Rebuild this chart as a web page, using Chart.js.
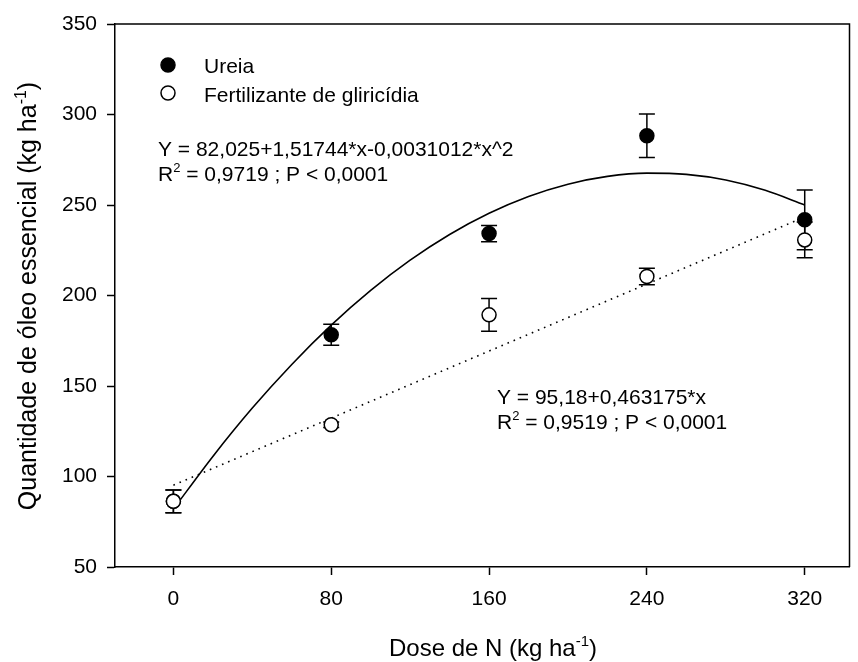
<!DOCTYPE html>
<html>
<head>
<meta charset="utf-8">
<script src="https://cdn.jsdelivr.net/npm/chart.js@4"></script>
<style>
  html, body { margin: 0; padding: 0; background: #fff; }
</style>
</head>
<body>
<canvas id="c" width="858" height="662"></canvas>
<script>
// dados
const doses = [0, 80, 160, 240, 320];
const ureia = [86.3, 178.3, 234.2, 288.3, 241.8];
const ureiaErr = [6.3, 5.8, 4.5, 12.0, 16.5];
const glir = [86.3, 128.6, 189.3, 210.5, 230.7];
const glirErr = [6.3, 1.5, 9.0, 4.6, 9.9];

// curvas ajustadas
const fitX = [0, 20, 40, 60, 80, 100, 120, 140, 160, 180, 200, 220, 240, 260, 280, 300, 320];
const ureiaFit = [82.0, 111.1, 137.8, 161.9, 183.6, 202.8, 219.5, 233.7, 245.4, 254.7, 261.5, 265.8, 267.6, 266.9, 263.8, 258.1, 250.0];
const glirFitX = [0, 320];
const glirFit = [95.2, 243.4];

const xTicks = [0, 80, 160, 240, 320];
const yTicks = [50, 100, 150, 200, 250, 300, 350];

const FONT = "'Liberation Sans', Arial, sans-serif";
const pts = (xs, ys) => xs.map((x, i) => ({ x, y: ys[i] }));

// texto com expoente
function drawRich(ctx, parts, x, y, size, align) {
  const sm = Math.round(size * 0.62);
  const w = parts.map(([t, sup]) => {
    ctx.font = `${sup ? sm : size}px ${FONT}`;
    return ctx.measureText(t).width;
  });
  const total = w.reduce((a, b) => a + b, 0);
  let cx = align === "center" ? x - total / 2 : x;
  ctx.textAlign = "left";
  ctx.textBaseline = "alphabetic";
  parts.forEach(([t, sup], i) => {
    ctx.font = `${sup ? sm : size}px ${FONT}`;
    ctx.fillText(t, cx, sup ? y - size * 0.42 : y);
    cx += w[i];
  });
}

const errorBars = {
  id: "errorBars",
  beforeDatasetsDraw(chart) {
    const { ctx, scales: { x, y } } = chart;
    ctx.save();
    ctx.strokeStyle = "#000";
    ctx.lineWidth = 1.5;
    [[ureia, ureiaErr], [glir, glirErr]].forEach(([vals, errs]) => {
      vals.forEach((v, i) => {
        const px = x.getPixelForValue(doses[i]);
        const top = y.getPixelForValue(v + errs[i]);
        const bot = y.getPixelForValue(v - errs[i]);
        ctx.beginPath();
        ctx.moveTo(px, top); ctx.lineTo(px, bot);
        ctx.moveTo(px - 8, top); ctx.lineTo(px + 8, top);
        ctx.moveTo(px - 8, bot); ctx.lineTo(px + 8, bot);
        ctx.stroke();
      });
    });
    ctx.restore();
  }
};

const extras = {
  id: "extras",
  afterDraw(chart) {
    const { ctx, chartArea: a } = chart;
    ctx.save();
    // moldura superior e direita
    ctx.strokeStyle = "#000";
    ctx.lineWidth = 1.5;
    ctx.beginPath();
    ctx.moveTo(a.left, a.top); ctx.lineTo(a.right, a.top); ctx.lineTo(a.right, a.bottom);
    ctx.stroke();

    // legenda
    ctx.lineWidth = 1.5;
    ctx.beginPath(); ctx.arc(168, 65, 7, 0, Math.PI * 2);
    ctx.fillStyle = "#000"; ctx.fill(); ctx.stroke();
    ctx.beginPath(); ctx.arc(168, 93, 7, 0, Math.PI * 2);
    ctx.fillStyle = "#fff"; ctx.fill(); ctx.stroke();
    ctx.fillStyle = "#000";
    drawRich(ctx, [["Ureia"]], 204, 73, 21);
    drawRich(ctx, [["Fertilizante de gliricídia"]], 204, 102, 21);

    // equações
    drawRich(ctx, [["Y = 82,025+1,51744*x-0,0031012*x^2"]], 158, 156, 21);
    drawRich(ctx, [["R"], ["2", true], [" = 0,9719 ; P < 0,0001"]], 158, 181, 21);
    drawRich(ctx, [["Y = 95,18+0,463175*x"]], 497, 404, 21);
    drawRich(ctx, [["R"], ["2", true], [" = 0,9519 ; P < 0,0001"]], 497, 429, 21);

    // títulos dos eixos
    drawRich(ctx, [["Dose de N (kg ha"], ["-1", true], [")"]], 493, 656, 24, "center");
    ctx.translate(36, 296);
    ctx.rotate(-Math.PI / 2);
    drawRich(ctx, [["Quantidade de óleo essencial (kg ha"], ["-1", true], [")"]], 0, 0, 25, "center");
    ctx.restore();
  }
};

new Chart(document.getElementById("c"), {
  type: "scatter",
  data: {
    datasets: [
      {
        type: "line", data: pts(fitX, ureiaFit), order: 4,
        borderColor: "#000", borderWidth: 1.6, pointRadius: 0,
        cubicInterpolationMode: "monotone", fill: false
      },
      {
        type: "line", data: pts(glirFitX, glirFit), order: 3,
        borderColor: "#000", borderWidth: 1.6, borderDash: [1.6, 5], pointRadius: 0, fill: false
      },
      {
        label: "Ureia", data: pts(doses, ureia), order: 2,
        pointRadius: 7, pointBackgroundColor: "#000", pointBorderColor: "#000", pointBorderWidth: 1.5
      },
      {
        label: "Fertilizante de gliricídia", data: pts(doses, glir), order: 1,
        pointRadius: 7, pointBackgroundColor: "#fff", pointBorderColor: "#000", pointBorderWidth: 1.5
      }
    ]
  },
  options: {
    responsive: false,
    animation: false,
    devicePixelRatio: 1,
    layout: { padding: { left: 0, top: 24, right: 1, bottom: 0 } },
    plugins: { legend: { display: false }, tooltip: { enabled: false } },
    scales: {
      x: {
        type: "linear", min: -29.6, max: 342.7,
        afterFit: s => { s.height = 95; },
        afterBuildTicks: s => { s.ticks = xTicks.map(v => ({ value: v })); },
        border: { display: true, color: "#000", width: 1.5 },
        grid: { drawOnChartArea: false, tickLength: 8, tickColor: "#000", tickWidth: 1.5 },
        ticks: { color: "#000", padding: 12, maxRotation: 0, font: { family: FONT, size: 21 } }
      },
      y: {
        min: 50, max: 350,
        afterFit: s => { s.width = 115; },
        afterBuildTicks: s => { s.ticks = yTicks.map(v => ({ value: v })); },
        border: { display: true, color: "#000", width: 1.5 },
        grid: { drawOnChartArea: false, tickLength: 8, tickColor: "#000", tickWidth: 1.5 },
        ticks: { color: "#000", padding: 10, font: { family: FONT, size: 21 } }
      }
    }
  },
  plugins: [errorBars, extras]
});
</script>
</body>
</html>
